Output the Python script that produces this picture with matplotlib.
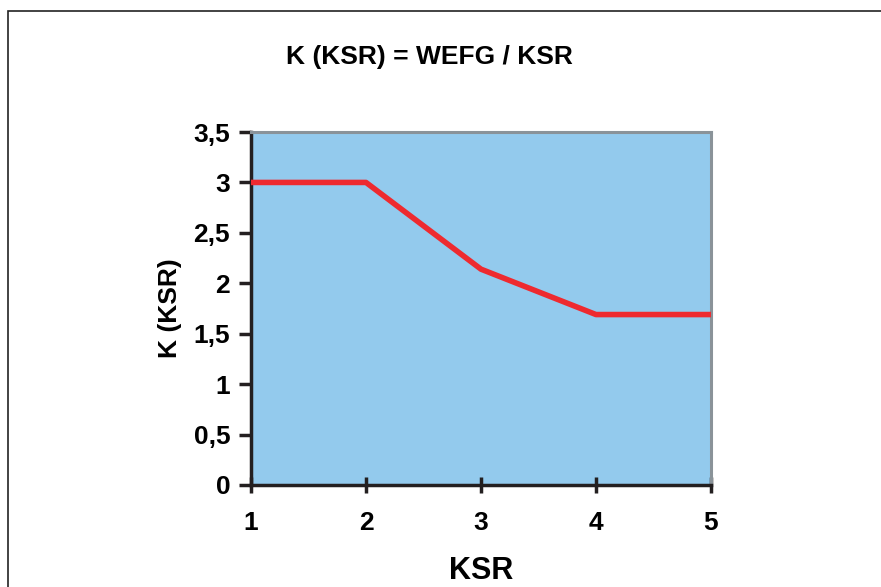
import matplotlib.pyplot as plt
import matplotlib.patches as patches

ksr = [1, 2, 3, 4, 5]
k_ksr = [3.0, 3.0, 2.14, 1.69, 1.69]
y_ticks = [0, 0.5, 1, 1.5, 2, 2.5, 3, 3.5]
y_labels = ['0', '0,5', '1', '1,5', '2', '2,5', '3', '3,5']

plt.rcParams['font.family'] = ['Liberation Sans', 'DejaVu Sans']
plt.rcParams['font.weight'] = 'bold'

fig = plt.figure(figsize=(8.81, 5.87), dpi=100)
ax = fig.add_axes([0.2849, 0.1738, 0.5221, 0.6013])

# outer frame of the chart object
fig.patches.append(patches.Rectangle((7.5 / 881, -0.1), 1.2, 1 - 10.5 / 587 + 0.1,
                                     transform=fig.transFigure, fill=False,
                                     edgecolor='#222222', linewidth=1.2))

ax.set_facecolor('#93caed')
ax.plot(ksr, k_ksr, color='#ee2a2f', linewidth=4, solid_capstyle='butt', clip_on=False, zorder=3)

ax.set_xlim(1, 5)
ax.set_ylim(0, 3.5)
ax.set_xticks(ksr)
ax.set_yticks(y_ticks)
ax.set_yticklabels(y_labels)

for s in ['left', 'bottom']:
    ax.spines[s].set_color('#231f20')
    ax.spines[s].set_linewidth(2.5)
for s in ['top', 'right']:
    ax.spines[s].set_color('#8a9399')
    ax.spines[s].set_linewidth(2.2)

ax.tick_params(axis='x', direction='inout', length=11, width=2.5, color='#231f20',
               labelsize=19, pad=13)
ax.tick_params(axis='y', direction='out', length=9, width=2.5, color='#231f20',
               labelsize=19, pad=6)

ax.set_xlabel('KSR', fontsize=22, fontweight='bold', labelpad=15)
ax.set_ylabel('K (KSR)', fontsize=19, fontweight='bold', labelpad=8.5)
fig.text(0.488, 1 - 57 / 587, 'K (KSR) = WEFG / KSR', ha='center', va='center',
         fontsize=19, fontweight='bold')

fig.savefig('out.png', dpi=100, facecolor='white')
